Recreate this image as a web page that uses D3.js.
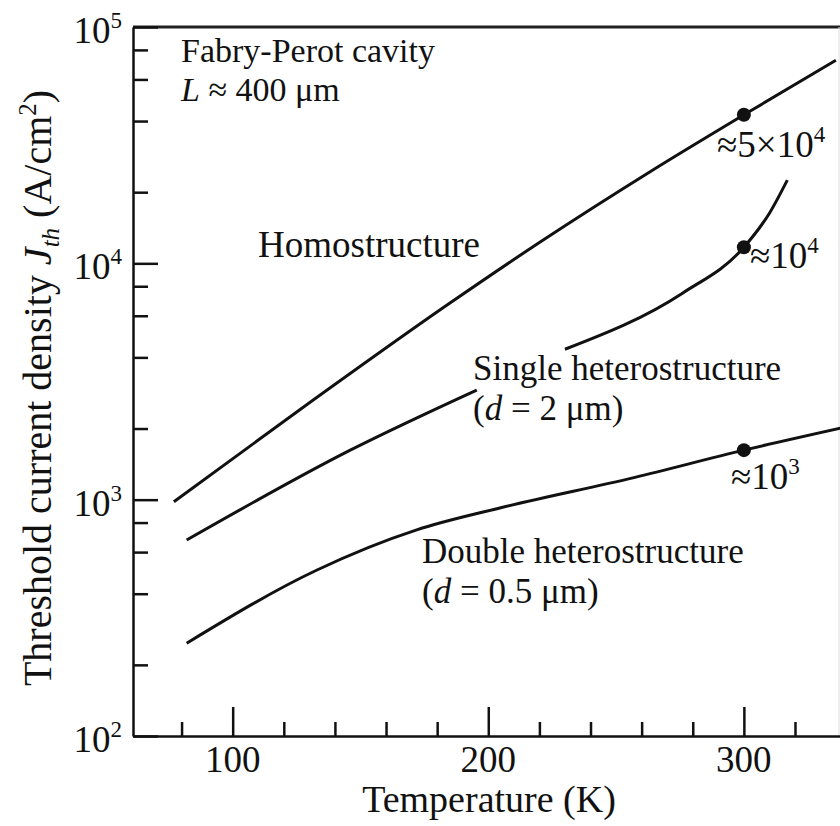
<!DOCTYPE html>
<html>
<head>
<meta charset="utf-8">
<script src="https://cdn.jsdelivr.net/npm/d3@7"></script>
<style>
  body { margin: 0; background: #fff; }
  text { font-family: "Liberation Serif", "Times New Roman", serif; fill: #111; }
  .curve { fill: none; stroke: #111; stroke-width: 3px; }
  .axis path, .axis line { stroke: #111; stroke-width: 2.5px; }
</style>
</head>
<body>
<script>
var width = 840, height = 826;

// temperature (K) and threshold current density (A/cm2)
var homoT = [77, 126, 185, 220, 263, 300, 336];
var homoJ = [980, 2390, 6790, 12250, 24300, 42500, 72300];

var singleT1 = [82, 146, 195.5];
var singleJ1 = [675, 1620, 2910];
var singleT2 = [230, 276, 300, 310, 317];
var singleJ2 = [4330, 7480, 11700, 16300, 22500];

var doubleT = [82, 133, 172, 204.5, 257, 300, 338];
var doubleJ = [247, 504, 745, 922, 1240, 1620, 2010];

// values marked with a dot at room temperature
var markT = [300, 300, 300];
var markJ = [42500, 11700, 1620];

var xMajor = [100, 200, 300];
var xMinor = [80, 120, 140, 160, 180, 220, 240, 260, 280, 320];
var yMajor = [1e2, 1e3, 1e4, 1e5];
var yMinor = [2e2, 4e2, 6e2, 8e2, 2e3, 4e3, 6e3, 8e3, 2e4, 4e4, 6e4, 8e4];

var x = d3.scaleLinear().domain([61, 338]).range([133, 841]);
var y = d3.scaleLog().domain([1e2, 1e5]).range([736, 27]);

var svg = d3.select("body").append("svg")
  .attr("width", width)
  .attr("height", height);

function zip(ts, js) { return ts.map(function(t, i) { return [t, js[i]]; }); }

var line = d3.line()
  .x(function(d) { return x(d[0]); })
  .y(function(d) { return y(d[1]); })
  .curve(d3.curveMonotoneX);

// frame
svg.append("line").attr("x1", 133).attr("x2", 840).attr("y1", 27).attr("y2", 27)
  .attr("stroke", "#222").attr("stroke-width", 3);
svg.append("line").attr("x1", 839).attr("x2", 839).attr("y1", 27).attr("y2", 736)
  .attr("stroke", "#ddd").attr("stroke-width", 1);

// axes: ticks point inside
svg.append("g").attr("class", "axis").attr("transform", "translate(0,736)")
  .call(d3.axisBottom(x).tickValues(xMajor).tickSizeInner(-29).tickSizeOuter(0).tickFormat(""));
svg.append("g").attr("class", "axis").attr("transform", "translate(0,736)")
  .call(d3.axisBottom(x).tickValues(xMinor).tickSizeInner(-14).tickSizeOuter(0).tickFormat(""))
  .select(".domain").remove();
svg.append("g").attr("class", "axis").attr("transform", "translate(133,0)")
  .call(d3.axisLeft(y).tickValues(yMajor).tickSizeInner(-25).tickSizeOuter(0).tickFormat(""));
svg.append("g").attr("class", "axis").attr("transform", "translate(133,0)")
  .call(d3.axisLeft(y).tickValues(yMinor).tickSizeInner(-15).tickSizeOuter(0).tickFormat(""))
  .select(".domain").remove();

// tick labels
svg.selectAll(".xlab").data(xMajor).enter().append("text")
  .attr("x", function(d) { return x(d); })
  .attr("y", 772)
  .attr("text-anchor", "middle")
  .attr("font-size", 37)
  .text(function(d) { return d; });

var ylab = svg.selectAll(".ylab").data(yMajor).enter().append("text")
  .attr("x", 122)
  .attr("y", function(d) { return y(d) + 16; })
  .attr("text-anchor", "end")
  .attr("font-size", 37);
ylab.append("tspan").text("10");
ylab.append("tspan").attr("dy", -15).attr("font-size", 23)
  .text(function(d) { return Math.round(Math.log10(d)); });

// axis titles
svg.append("text").attr("x", 489).attr("y", 812).attr("text-anchor", "middle")
  .attr("font-size", 38).text("Temperature (K)");

var yt = svg.append("text").attr("transform", "translate(51,388) rotate(-90)")
  .attr("text-anchor", "middle").attr("font-size", 40);
yt.append("tspan").text("Threshold current density ");
yt.append("tspan").attr("font-style", "italic").text("J");
yt.append("tspan").attr("font-style", "italic").attr("font-size", 25).attr("dy", 8).text("th");
yt.append("tspan").attr("dy", -8).text(" (A/cm");
yt.append("tspan").attr("font-size", 25).attr("dy", -15).text("2");
yt.append("tspan").attr("dy", 15).text(")");

// curves
[zip(homoT, homoJ), zip(singleT1, singleJ1), zip(singleT2, singleJ2), zip(doubleT, doubleJ)]
  .forEach(function(s) {
    svg.append("path").datum(s).attr("class", "curve").attr("d", line);
  });

svg.selectAll(".mark").data(zip(markT, markJ)).enter().append("circle")
  .attr("cx", function(d) { return x(d[0]); })
  .attr("cy", function(d) { return y(d[1]); })
  .attr("r", 7)
  .attr("fill", "#111");

// annotations
function label(px, py, parts, size) {
  var t = svg.append("text").attr("x", px).attr("y", py).attr("font-size", size || 37);
  parts.forEach(function(p) {
    var s = t.append("tspan").text(p.t);
    if (p.i) s.attr("font-style", "italic");
    if (p.sup) s.attr("font-size", 23).attr("dy", -15);
  });
  return t;
}

label(181, 62, [{t: "Fabry-Perot cavity"}], 34);
label(181, 101, [{t: "L", i: true}, {t: " \u2248 400 \u03bcm"}], 34);
label(258, 257, [{t: "Homostructure"}]);
label(473, 380, [{t: "Single heterostructure"}], 35);
label(473, 420, [{t: "("}, {t: "d", i: true}, {t: " = 2 \u03bcm)"}], 35);
label(422, 563, [{t: "Double heterostructure"}], 35);
label(422, 603, [{t: "("}, {t: "d", i: true}, {t: " = 0.5 \u03bcm)"}], 35);
label(717, 157, [{t: "\u22485\u00d710"}, {t: "4", sup: true}]);
label(750, 268, [{t: "\u224810"}, {t: "4", sup: true}]);
label(731, 489, [{t: "\u224810"}, {t: "3", sup: true}]);
</script>
</body>
</html>
